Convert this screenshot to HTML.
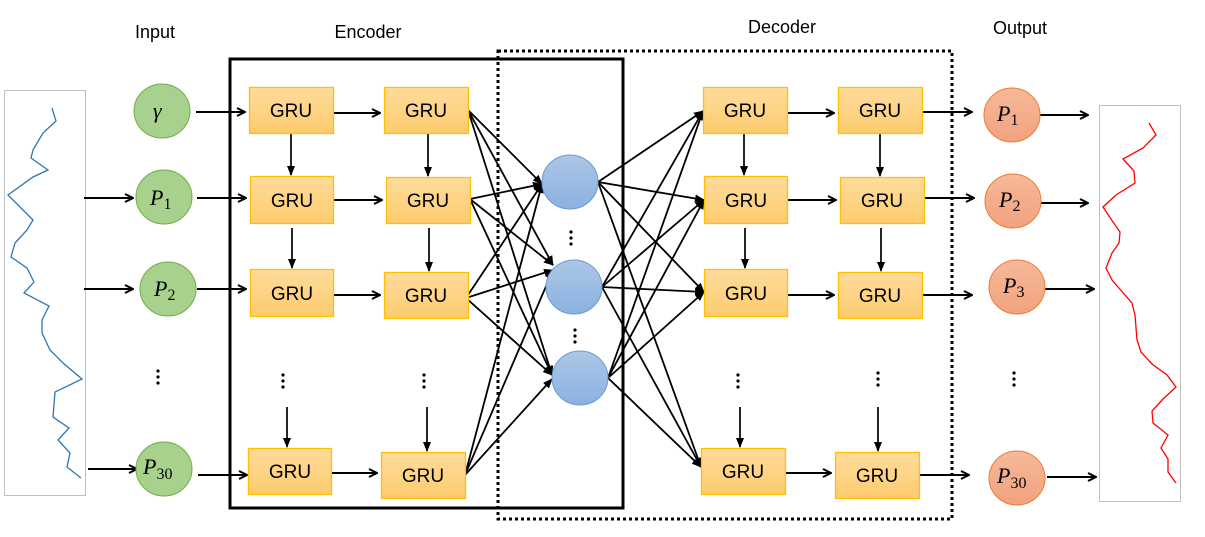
<!DOCTYPE html>
<html><head><meta charset="utf-8"><style>
html,body{margin:0;padding:0;background:#fff;}
svg{display:block;}
text{font-family:"Liberation Sans",sans-serif;}
text.m{font-family:"Liberation Serif","DejaVu Serif",serif;font-style:italic;}
</style></head><body>
<svg width="1205" height="537" viewBox="0 0 1205 537" xmlns="http://www.w3.org/2000/svg">
<defs>
<marker id="a" markerWidth="10" markerHeight="10" refX="9" refY="5" orient="auto" markerUnits="userSpaceOnUse"><path d="M1,1 L9,5 L1,9" fill="none" stroke="#000" stroke-width="2"/></marker>
<marker id="t" markerWidth="10" markerHeight="10" refX="9" refY="5" orient="auto" markerUnits="userSpaceOnUse"><path d="M0,1 L10,5 L0,9 z" fill="#000"/></marker>
<linearGradient id="gy" x1="0" y1="0" x2="0" y2="1"><stop offset="0" stop-color="#fedc9c"/><stop offset="1" stop-color="#fdcb6e"/></linearGradient>
<linearGradient id="gb" x1="0" y1="0" x2="0" y2="1"><stop offset="0" stop-color="#abc6e6"/><stop offset="1" stop-color="#8cb2e0"/></linearGradient>
<linearGradient id="go" x1="0" y1="0" x2="0" y2="1"><stop offset="0" stop-color="#f6b99a"/><stop offset="1" stop-color="#f2a27e"/></linearGradient>
</defs>
<g font-size="18" fill="#000">
<text x="155" y="38" text-anchor="middle">Input</text>
<text x="368" y="38" text-anchor="middle">Encoder</text>
<text x="782" y="33" text-anchor="middle">Decoder</text>
<text x="1020" y="34" text-anchor="middle">Output</text>
</g>
<rect x="4.5" y="90.5" width="81" height="405" fill="#fff" stroke="#bfbfbf"/>
<polyline fill="none" stroke="#2e75b6" stroke-width="1.3" points="52,108 56,121 43,133 33,150 31,158 48,170 33,177 8,195 33,220 27,230 15,243 11,257 27,268 34,282 24,293 49,306 42,320 42,333 50,350 63,363 82,379 55,392 53,417 69,428 58,440 70,453 67,467 81,478"/>
<rect x="1099.5" y="105.5" width="81" height="396" fill="#fff" stroke="#bfbfbf"/>
<polyline fill="none" stroke="#ff0000" stroke-width="1.3" points="1149,123 1156,135 1143,148 1123,159 1134,171 1135,183 1116,195 1103,207 1113,222 1120,232 1119,243 1112,253 1106,268 1112,280 1132,303 1135,315 1137,340 1141,352 1152,364 1167,375 1176,387 1163,399 1152,411 1153,423 1168,435 1161,448 1168,459 1168,472 1176,483"/>
<rect x="230" y="59" width="393" height="449" fill="none" stroke="#000" stroke-width="3"/>
<rect x="498" y="51" width="454" height="468" fill="none" stroke="#000" stroke-width="3" stroke-dasharray="3,3"/>
<g stroke="#000" stroke-width="2" fill="none" marker-end="url(#a)">
<line x1="84" y1="198" x2="133" y2="198"/>
<line x1="84" y1="289" x2="133" y2="289"/>
<line x1="88" y1="469" x2="137" y2="469"/>
<line x1="196" y1="112" x2="245" y2="112"/>
<line x1="197" y1="198" x2="246" y2="198"/>
<line x1="197" y1="289" x2="246" y2="289"/>
<line x1="198" y1="475" x2="247" y2="475"/>
<line x1="333" y1="113" x2="380" y2="113"/>
<line x1="333" y1="200" x2="382" y2="200"/>
<line x1="333" y1="295" x2="380" y2="295"/>
<line x1="331" y1="473" x2="377" y2="473"/>
<line x1="787" y1="113" x2="834" y2="113"/>
<line x1="787" y1="200" x2="836" y2="200"/>
<line x1="787" y1="295" x2="834" y2="295"/>
<line x1="785" y1="473" x2="831" y2="473"/>
<line x1="922" y1="112" x2="972" y2="112"/>
<line x1="924" y1="198" x2="974" y2="198"/>
<line x1="922" y1="295" x2="972" y2="295"/>
<line x1="919" y1="475" x2="969" y2="475"/>
<line x1="1040" y1="115" x2="1088" y2="115"/>
<line x1="1040" y1="203" x2="1088" y2="203"/>
<line x1="1045" y1="289" x2="1094" y2="289"/>
<line x1="1047" y1="477" x2="1096" y2="477"/>
</g>
<g stroke="#000" stroke-width="1.7" marker-end="url(#t)">
<line x1="291" y1="134" x2="291" y2="175"/>
<line x1="292" y1="228" x2="292" y2="268"/>
<line x1="287" y1="407" x2="287" y2="447"/>
<line x1="428" y1="134" x2="428" y2="176"/>
<line x1="429" y1="228" x2="429" y2="271"/>
<line x1="427" y1="407" x2="427" y2="451"/>
<line x1="744" y1="134" x2="744" y2="175"/>
<line x1="745" y1="228" x2="745" y2="268"/>
<line x1="740" y1="407" x2="740" y2="447"/>
<line x1="880" y1="134" x2="880" y2="176"/>
<line x1="881" y1="228" x2="881" y2="271"/>
<line x1="878" y1="407" x2="878" y2="451"/>
</g>
<g stroke="#000" stroke-width="1.8" marker-end="url(#t)">
<line x1="468" y1="110" x2="542" y2="184"/><line x1="468" y1="110" x2="553" y2="265"/><line x1="468" y1="110" x2="552" y2="375"/>
<line x1="470" y1="199" x2="542" y2="184"/><line x1="470" y1="199" x2="553" y2="265"/><line x1="470" y1="199" x2="552" y2="375"/>
<line x1="466" y1="298" x2="542" y2="184"/><line x1="466" y1="298" x2="553" y2="270"/><line x1="466" y1="298" x2="552" y2="375"/>
<line x1="465" y1="475" x2="542" y2="184"/><line x1="465" y1="475" x2="553" y2="270"/><line x1="465" y1="475" x2="552" y2="379"/>
<line x1="598" y1="182" x2="703" y2="111"/><line x1="598" y1="182" x2="704" y2="200"/><line x1="598" y1="182" x2="704" y2="292"/><line x1="598" y1="182" x2="701" y2="467"/>
<line x1="602" y1="287" x2="703" y2="111"/><line x1="602" y1="287" x2="704" y2="200"/><line x1="602" y1="287" x2="704" y2="292"/><line x1="602" y1="287" x2="701" y2="467"/>
<line x1="608" y1="378" x2="703" y2="111"/><line x1="608" y1="378" x2="704" y2="200"/><line x1="608" y1="378" x2="704" y2="292"/><line x1="608" y1="378" x2="701" y2="467"/>
</g>
<g fill="url(#gy)" stroke="#ffc000" stroke-width="1.3">
<rect x="249.5" y="87.5" width="84" height="46"/><rect x="250.5" y="176.5" width="83" height="47"/><rect x="250.5" y="269.5" width="83" height="47"/><rect x="248.5" y="448.5" width="83" height="46"/>
<rect x="384.5" y="87.5" width="84" height="46"/><rect x="386.5" y="177.5" width="84" height="46"/><rect x="384.5" y="272.5" width="84" height="46"/><rect x="381.5" y="452.5" width="84" height="46"/>
<rect x="703.5" y="87.5" width="84" height="46"/><rect x="704.5" y="176.5" width="83" height="47"/><rect x="704.5" y="269.5" width="83" height="47"/><rect x="701.5" y="448.5" width="84" height="46"/>
<rect x="838.5" y="87.5" width="84" height="46"/><rect x="840.5" y="177.5" width="84" height="46"/><rect x="838.5" y="272.5" width="84" height="46"/><rect x="835.5" y="452.5" width="84" height="46"/>
</g>
<g font-size="19" text-anchor="middle" fill="#000">
<text x="291" y="117">GRU</text><text x="292" y="207">GRU</text><text x="292" y="300">GRU</text><text x="290" y="478">GRU</text>
<text x="426" y="117">GRU</text><text x="428" y="207">GRU</text><text x="426" y="302">GRU</text><text x="423" y="482">GRU</text>
<text x="745" y="117">GRU</text><text x="746" y="207">GRU</text><text x="746" y="300">GRU</text><text x="743" y="478">GRU</text>
<text x="880" y="117">GRU</text><text x="882" y="207">GRU</text><text x="880" y="302">GRU</text><text x="877" y="482">GRU</text>
</g>
<g fill="url(#gb)" stroke="#6b9bd2" stroke-width="1">
<ellipse cx="570" cy="182" rx="28" ry="27"/><ellipse cx="574" cy="287" rx="28" ry="27"/><ellipse cx="580" cy="378" rx="28" ry="27"/>
</g>
<g fill="#a9d18e" stroke="#70ad47" stroke-width="1">
<ellipse cx="162" cy="111" rx="28" ry="27"/><ellipse cx="164" cy="197" rx="28" ry="27"/><ellipse cx="168" cy="289" rx="28" ry="27"/><ellipse cx="164" cy="469" rx="28" ry="27"/>
</g>
<g fill="url(#go)" stroke="#ed7d31" stroke-width="1">
<ellipse cx="1012" cy="115" rx="28" ry="27"/><ellipse cx="1013" cy="201" rx="28" ry="27"/><ellipse cx="1017" cy="287" rx="28" ry="27"/><ellipse cx="1017" cy="478" rx="28" ry="27"/>
</g>
<g font-size="22" fill="#000">
<text class="m" x="153" y="118">γ</text>
<text class="m" x="150" y="205">P<tspan font-size="16" font-style="normal" dy="4">1</tspan></text>
<text class="m" x="154" y="296">P<tspan font-size="16" font-style="normal" dy="4">2</tspan></text>
<text class="m" x="143" y="474">P<tspan font-size="16" font-style="normal" dy="5">30</tspan></text>
<text class="m" x="997" y="121">P<tspan font-size="16" font-style="normal" dy="4">1</tspan></text>
<text class="m" x="999" y="207">P<tspan font-size="16" font-style="normal" dy="4">2</tspan></text>
<text class="m" x="1003" y="293">P<tspan font-size="16" font-style="normal" dy="4">3</tspan></text>
<text class="m" x="997" y="483">P<tspan font-size="16" font-style="normal" dy="5">30</tspan></text>
</g>
<g fill="#000">
<circle cx="158" cy="371" r="1.6"/><circle cx="158" cy="377" r="1.6"/><circle cx="158" cy="383" r="1.6"/>
<circle cx="283" cy="375" r="1.6"/><circle cx="283" cy="381" r="1.6"/><circle cx="283" cy="387" r="1.6"/>
<circle cx="424" cy="375" r="1.6"/><circle cx="424" cy="381" r="1.6"/><circle cx="424" cy="387" r="1.6"/>
<circle cx="571" cy="232" r="1.6"/><circle cx="571" cy="238" r="1.6"/><circle cx="571" cy="244" r="1.6"/>
<circle cx="575" cy="330" r="1.6"/><circle cx="575" cy="336" r="1.6"/><circle cx="575" cy="342" r="1.6"/>
<circle cx="738" cy="375" r="1.6"/><circle cx="738" cy="381" r="1.6"/><circle cx="738" cy="387" r="1.6"/>
<circle cx="878" cy="373" r="1.6"/><circle cx="878" cy="379" r="1.6"/><circle cx="878" cy="385" r="1.6"/>
<circle cx="1014" cy="373" r="1.6"/><circle cx="1014" cy="379" r="1.6"/><circle cx="1014" cy="385" r="1.6"/>
</g>
</svg>
</body></html>
